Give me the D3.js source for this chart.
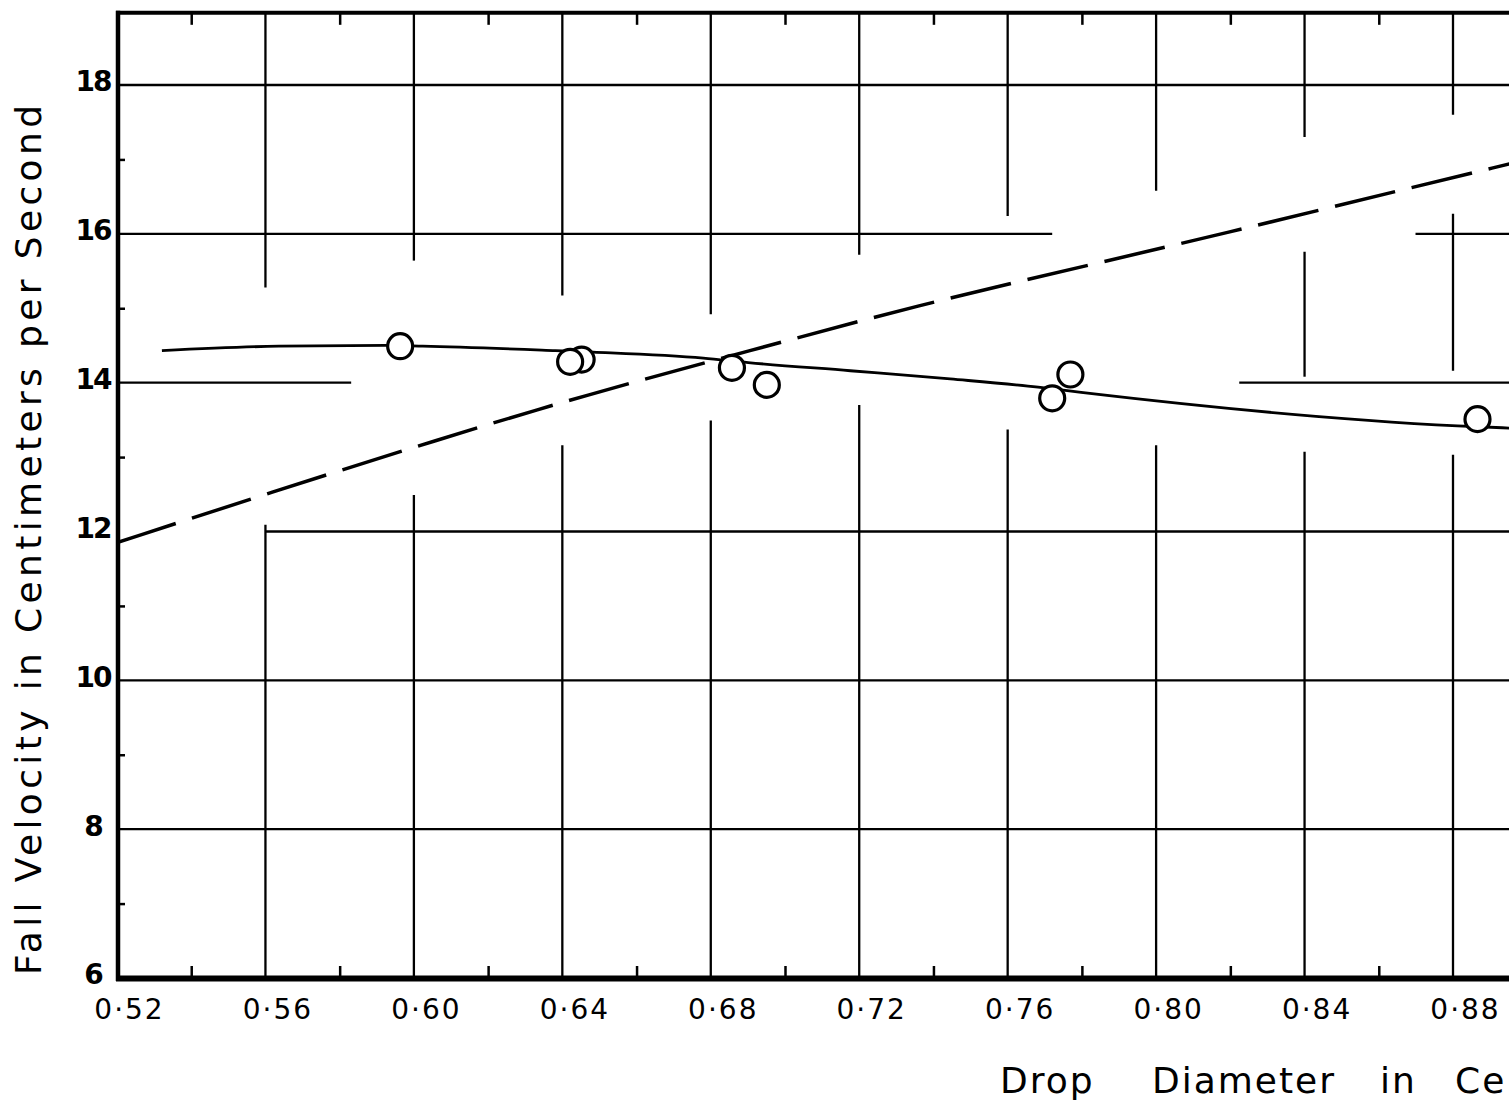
<!DOCTYPE html>
<html>
<head>
<meta charset="utf-8">
<script src="https://cdn.jsdelivr.net/npm/d3@7"></script>
<style>
  html, body { margin: 0; padding: 0; background: #fff; overflow: hidden; }
  svg { display: block; }
</style>
</head>
<body>
<div id="chart"></div>
<script>
// measured drops (open circles)
const dropDiameter = [0.5963, 0.6452, 0.6421, 0.6857, 0.6951, 0.7720, 0.7769, 0.8866];
const fallVelocity = [14.49, 14.31, 14.28, 14.20, 13.97, 13.79, 14.11, 13.51];

// smooth curve drawn through the observations
const curveDiameter = [0.5321, 0.5636, 0.5924, 0.6024, 0.6381, 0.6483, 0.6780, 0.6901, 0.7176, 0.7445, 0.7682, 0.7798, 0.8812, 0.8952];
const curveVelocity = [14.43, 14.49, 14.50, 14.49, 14.43, 14.41, 14.33, 14.27, 14.16, 14.05, 13.94, 13.87, 13.42, 13.39];

// dashed curve
const dashDiameter = [0.52, 0.5611, 0.6068, 0.6466, 0.6899, 0.7356, 0.7828, 0.8246, 0.8670, 0.8952];
const dashVelocity = [11.85, 12.52, 13.24, 13.84, 14.42, 15.04, 15.59, 16.08, 16.60, 16.94];

// ticks
const xTicks = [0.52, 0.56, 0.60, 0.64, 0.68, 0.72, 0.76, 0.80, 0.84, 0.88];
const xTickLabels = ['0·52', '0·56', '0·60', '0·64', '0·68', '0·72', '0·76', '0·80', '0·84', '0·88'];
const xMinor = [0.54, 0.58, 0.62, 0.66, 0.70, 0.74, 0.78, 0.82, 0.86];
const yTicks = [6, 8, 10, 12, 14, 16, 18];
const yTickLabels = ['6', '8', '10', '12', '14', '16', '18'];
const yMinor = [7, 9, 11, 13, 15, 17];

// x title as it shows on the sheet (cut at the page edge)
const xTitleWords = ['Drop', 'Diameter', 'in', 'Ce'];

// grid lines are broken where the curves run (values in data units)
const vGridX = [0.56, 0.60, 0.64, 0.68, 0.72, 0.76, 0.80, 0.84, 0.88];
const vGridPieces = [
  [[15.28, 19], [6, 12.09]],
  [[15.64, 19], [6, 12.49]],
  [[15.17, 19], [6, 13.16]],
  [[14.92, 19], [6, 13.49]],
  [[15.72, 19], [6, 13.70]],
  [[16.24, 19], [6, 13.37]],
  [[16.58, 19], [6, 13.16]],
  [[17.30, 19], [14.08, 15.76], [6, 13.07]],
  [[17.60, 19], [14.16, 16.27], [6, 13.03]]
];
const hGridY = [8, 10, 12, 14, 16, 18];
const hGridPieces = [
  [[0.52, 0.90]],
  [[0.52, 0.90]],
  [[0.56, 0.90]],
  [[0.52, 0.5831], [0.8224, 0.90]],
  [[0.52, 0.772], [0.8699, 0.90]],
  [[0.52, 0.90]]
];

const W = 1509, H = 1108;
const x = d3.scaleLinear().domain([0.52, 0.88]).range([117, 1453]);
const y = d3.scaleLinear().domain([6, 18]).range([978, 85]);
const yTop = 18.97;

const svg = d3.select('#chart').append('svg')
  .attr('width', W)
  .attr('height', H);

svg.append('defs').append('clipPath').attr('id', 'plot')
  .append('rect')
  .attr('x', x(0.52)).attr('y', y(yTop))
  .attr('width', W - x(0.52)).attr('height', y(6) - y(yTop));

const plot = svg.append('g').attr('clip-path', 'url(#plot)');

// grid
vGridX.forEach((v, i) => {
  vGridPieces[i].forEach(p => {
    plot.append('line')
      .attr('x1', x(v)).attr('x2', x(v))
      .attr('y1', y(Math.min(p[1], yTop))).attr('y2', y(p[0]))
      .attr('stroke', '#000').attr('stroke-width', 2.3);
  });
});
hGridY.forEach((v, i) => {
  hGridPieces[i].forEach(p => {
    plot.append('line')
      .attr('x1', x(p[0])).attr('x2', x(p[1]))
      .attr('y1', y(v)).attr('y2', y(v))
      .attr('stroke', '#000').attr('stroke-width', 2.3);
  });
});

// dashed curve
const dashData = dashDiameter.map((d, i) => [d, dashVelocity[i]]);
plot.append('path')
  .datum(dashData)
  .attr('fill', 'none')
  .attr('stroke', '#000')
  .attr('stroke-width', 3.5)
  .attr('stroke-dasharray', '62,17')
  .attr('d', d3.line().x(d => x(d[0])).y(d => y(d[1])).curve(d3.curveBasis));

// smooth curve
const curveData = curveDiameter.map((d, i) => [d, curveVelocity[i]]);
plot.append('path')
  .datum(curveData)
  .attr('fill', 'none')
  .attr('stroke', '#000')
  .attr('stroke-width', 2.8)
  .attr('d', d3.line().x(d => x(d[0])).y(d => y(d[1])).curve(d3.curveMonotoneX));

// points
const pts = dropDiameter.map((d, i) => [d, fallVelocity[i]]);
plot.selectAll('circle.drop')
  .data(pts)
  .enter().append('circle')
  .attr('class', 'drop')
  .attr('cx', d => x(d[0]))
  .attr('cy', d => y(d[1]))
  .attr('r', 12.5)
  .attr('fill', '#fff')
  .attr('stroke', '#000')
  .attr('stroke-width', 3.2);

// minor ticks
const bottomMinor = svg.append('g')
  .attr('transform', `translate(0,${y(6)})`)
  .call(d3.axisTop(x).tickValues(xMinor).tickSize(12).tickFormat(''));
const topMinor = svg.append('g')
  .attr('transform', `translate(0,${y(yTop)})`)
  .call(d3.axisBottom(x).tickValues(xMinor).tickSize(12).tickFormat(''));
const leftMinor = svg.append('g')
  .attr('transform', `translate(${x(0.52)},0)`)
  .call(d3.axisRight(y).tickValues(yMinor).tickSize(8).tickFormat(''));
[bottomMinor, topMinor, leftMinor].forEach(g => {
  g.select('.domain').remove();
  g.selectAll('.tick line').attr('stroke', '#000').attr('stroke-width', 2.5);
});

// frame
svg.append('line')
  .attr('x1', x(0.52) + 1).attr('x2', x(0.52) + 1)
  .attr('y1', y(yTop) - 2).attr('y2', y(6) + 3)
  .attr('stroke', '#000').attr('stroke-width', 4.5);
svg.append('line')
  .attr('x1', x(0.52) - 1).attr('x2', W)
  .attr('y1', y(yTop)).attr('y2', y(yTop))
  .attr('stroke', '#000').attr('stroke-width', 4);
svg.append('line')
  .attr('x1', x(0.52) - 1).attr('x2', W)
  .attr('y1', y(6) + 0.5).attr('y2', y(6) + 0.5)
  .attr('stroke', '#000').attr('stroke-width', 6);

// tick labels
const xAxis = svg.append('g')
  .attr('transform', `translate(0,${y(6)})`)
  .call(d3.axisBottom(x).tickValues(xTicks).tickSize(0)
    .tickFormat((d, i) => xTickLabels[i]));
xAxis.select('.domain').remove();
xAxis.selectAll('text')
  .attr('x', 12)
  .attr('y', 41)
  .attr('dy', null)
  .style('font-family', '"DejaVu Sans", sans-serif')
  .style('font-size', '28px')
  .style('letter-spacing', '2px')
  .attr('fill', '#000');

const yAxis = svg.append('g')
  .attr('transform', `translate(${x(0.52)},0)`)
  .call(d3.axisLeft(y).tickValues(yTicks).tickSize(0)
    .tickFormat((d, i) => yTickLabels[i]));
yAxis.select('.domain').remove();
yAxis.selectAll('text')
  .attr('x', -24)
  .attr('y', -3)
  .attr('text-anchor', 'middle')
  .style('font-family', '"DejaVu Sans", sans-serif')
  .style('font-weight', 'bold')
  .style('font-size', '28px')
  .style('letter-spacing', '-2px')
  .attr('fill', '#000');

// axis titles
svg.append('text')
  .attr('transform', 'translate(41,540) rotate(-90)')
  .attr('text-anchor', 'middle')
  .attr('textLength', 870)
  .attr('lengthAdjust', 'spacing')
  .style('font-family', '"DejaVu Sans", sans-serif')
  .style('font-size', '36px')
  .text('Fall Velocity in Centimeters per Second');

const xWordStart = [1000, 1152, 1380, 1455];
const xTitle = svg.append('text')
  .attr('y', 1093)
  .style('font-family', '"DejaVu Sans", sans-serif')
  .style('font-size', '36px')
  .style('letter-spacing', '2px');
xTitleWords.forEach((w, i) => {
  xTitle.append('tspan').attr('x', xWordStart[i]).text(w);
});
</script>
</body>
</html>
